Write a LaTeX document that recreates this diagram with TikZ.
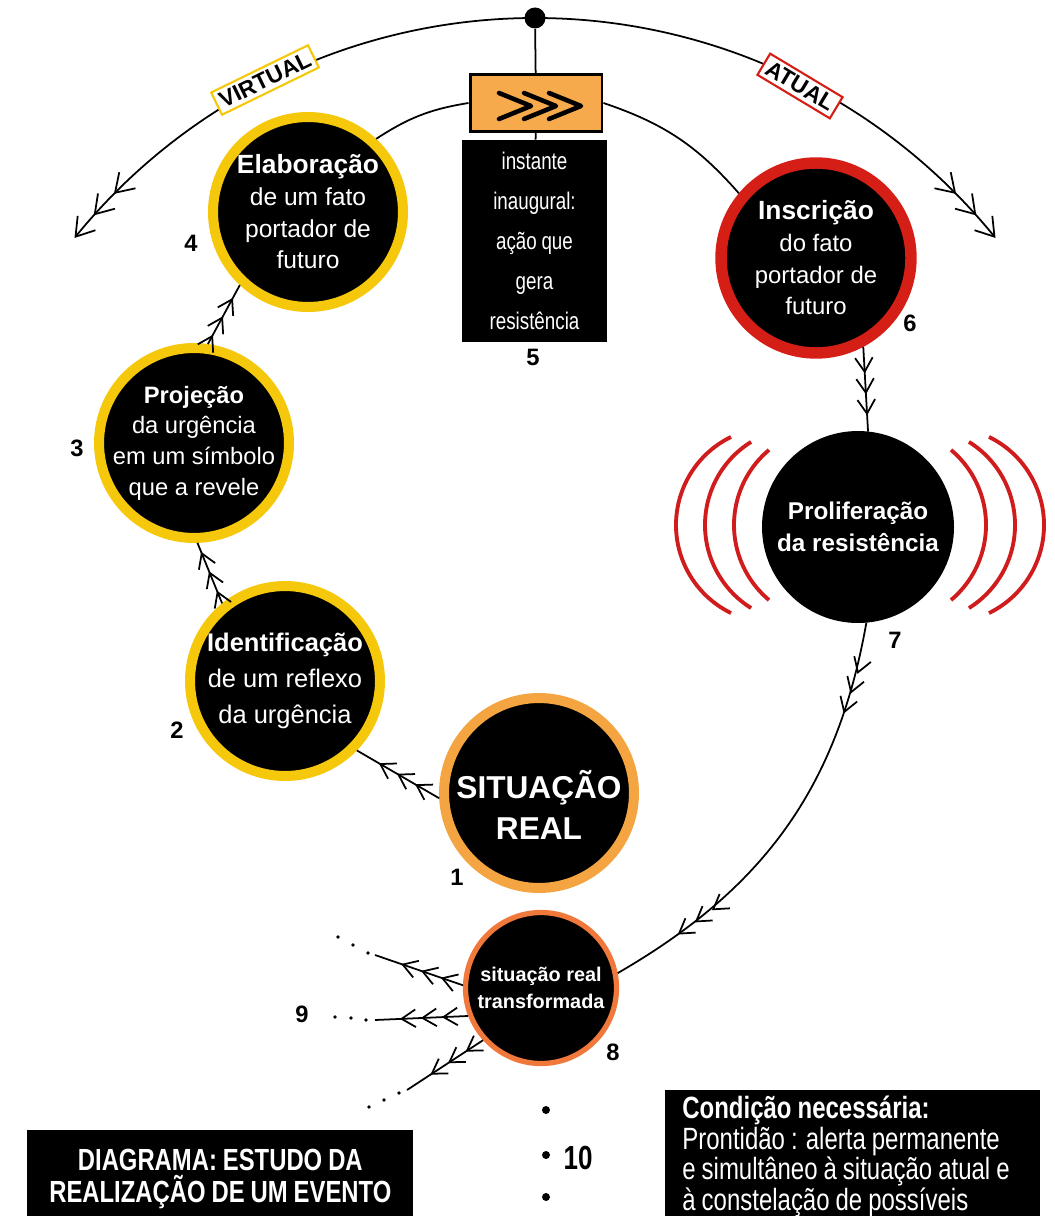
\documentclass[tikz,border=0pt]{standalone}
\usepackage{fontspec}
\setmainfont{Liberation Sans}
\newfontfamily\narrowfont[FakeStretch=0.78, WordSpace=0.9]{Liberation Sans}
\usetikzlibrary{arrows.meta, bending, decorations.markings}
\definecolor{ringyellow}{RGB}{245,200,12}
\definecolor{ringorange}{RGB}{244,165,66}
\definecolor{ringred}{RGB}{212,30,22}
\definecolor{ringcoral}{RGB}{240,120,58}
\definecolor{boxorange}{RGB}{247,170,76}
\definecolor{wavered}{RGB}{208,28,28}
\newcommand{\fsz}[2]{\fontsize{#1}{#2}\selectfont}

\begin{document}
\begin{tikzpicture}[x=0.02cm, y=0.02cm,
    barb/.tip={Straight Barb[length=8pt, width=10pt, sep=2.5pt]},
    bigbarb/.tip={Straight Barb[length=10pt, width=13pt, sep=5.5pt]},
    flow/.style={line width=1pt},
    heads/.style={postaction={decorate, decoration={markings,
        mark=at position #1 with {\arrow{barb[] barb[] barb[]}}}}},
    stage/.style={circle, fill=black, draw=#1, line width=5.7pt,
        minimum size=3.8cm, inner sep=0pt},
    words/.style={text=white, align=center, inner sep=0pt},
    num/.style={font=\bfseries\fsz{13.5}{14}, inner sep=0pt},
    tag/.style={draw=#1, fill=white, line width=1.2pt, inner sep=2.5pt,
        font=\bfseries\fsz{13}{13}},
    wave/.style={draw=wavered, line width=2.2pt}]

    \useasboundingbox (0,0) rectangle (1054,-1216);

    % Instante inaugural
    \node[circle, fill=black, minimum size=0.42cm, inner sep=0pt] (topdot) at (535,-18) {};
    \node[draw=black, fill=boxorange, line width=1.7pt, minimum width=2.64cm,
        minimum height=1.14cm] (gera) at (536,-103) {};
    \foreach \cx in {515,540,565}
        \draw[line width=2.6pt, line join=round, line cap=round] (\cx-16,-93) -- (\cx+16,-106) -- (\cx-16,-119);
    \node[fill=black, minimum width=2.9cm, minimum height=4.04cm, text=white, align=center,
        font=\narrowfont\fsz{13.7}{22.7}] (inst) at (534.5,-241)
        {instante\\inaugural:\\ação que\\gera\\resistência};

    % Stages of the event
    \node[stage=ringyellow] (elab) at (308,-212) {};
    \node[stage=ringyellow] (proj) at (194,-443) {};
    \node[stage=ringyellow] (ident) at (285,-681) {};
    \node[stage=ringorange] (sit) at (539,-793) {};
    \node[stage=ringred, line width=6.5pt] (insc) at (816,-258) {};
    \node[stage=black, minimum size=3.64cm] (prolif) at (858,-527) {};
    \node[stage=ringcoral, line width=3pt, minimum size=3.02cm] (trans) at (541,-988) {};

    \node[words, font=\fsz{14}{18}] (elabtxt) at (elab)
        {{\bfseries\fsz{15}{18}Elaboração}\\de um fato\\portador de\\futuro};
    \node[words, font=\fsz{13.5}{17.5}] (projtxt) at (proj)
        {\textbf{Projeção}\\da urgência\\em um símbolo\\que a revele};
    \node[words, font=\fsz{14.5}{20.4}] (identtxt) at (ident)
        {\textbf{Identificação}\\de um reflexo\\da urgência};
    \node[words, font=\bfseries\fsz{18}{23}] (sittxt) at (539,-805) {SITUAÇÃO\\REAL};
    \node[words, font=\fsz{13.6}{18}] (insctxt) at (insc)
        {{\bfseries\fsz{15}{18}Inscrição}\\do fato\\portador de\\futuro};
    \node[words, font=\bfseries\fsz{13.8}{18}] (proliftxt) at (prolif) {Proliferação\\da resistência};
    \node[words, font=\bfseries\fsz{11.3}{15}] (transtxt) at (trans) {situação real\\transformada};

    % Numbers
    \node[num] (n1) at (457,-877) {1};
    \node[num] (n2) at (177,-730) {2};
    \node[num] (n3) at (77,-448) {3};
    \node[num] (n4) at (191,-243) {4};
    \node[num] (n5) at (533,-357) {5};
    \node[num] (n6) at (910,-323) {6};
    \node[num] (n7) at (895,-640) {7};
    \node[num] (n8) at (613,-1052) {8};
    \node[num] (n9) at (302,-1014) {9};
    \node[num, font=\narrowfont\bfseries\fsz{19}{19}] (n10) at (578,-1158) {10};

    % Virtual / atual
    \draw[flow, -{bigbarb[] bigbarb[] bigbarb[]}] (topdot.center) arc[start angle=90, end angle=142, radius=592];
    \draw[flow, -{bigbarb[] bigbarb[] bigbarb[]}] (topdot.center) arc[start angle=90, end angle=38, radius=592];
    \node[tag=ringyellow, rotate=26] (virt) at (265,-80) {VIRTUAL};
    \node[tag=ringred, rotate=-31] (atual) at (800,-86) {ATUAL};

    % Connectors
    \draw[flow] (topdot) -- (gera);
    \draw[flow] (gera) -- (inst);
    \draw[flow, heads=0.78] (sit.183) -- (ident.-44);
    \draw[flow, heads=0.92] (ident.129) -- (proj.-88);
    \draw[flow, heads=0.85] (proj.82) -- (elab.227);
    \draw[flow] (gera.west) to[bend right=12] (elab.47);
    \draw[flow] (gera.east) to[bend left=15] (insc.140);
    \draw[flow, heads=0.86] (insc.-62) -- (prolif.84);
    \draw[flow, heads=0.22, heads=0.85] (prolif.-85) to[out=-100, in=30] (trans.11);

    % Resistance waves
    \foreach \d/\a in {28/50,57/58,86/64}{
        \draw[wave] ([shift={(180-\a:98)}]860-\d,-525) arc[start angle=180-\a, end angle=180+\a, radius=98];
        \draw[wave] ([shift={(\a:98)}]860+\d,-525) arc[start angle=\a, end angle=-\a, radius=98];
    }

    % Possible futures
    \coordinate (away1) at (375,-955);
    \coordinate (away2) at (375,-1020);
    \coordinate (away3) at (407,-1090);
    \draw[flow, heads=0.75] (trans.178) -- (away1);
    \draw[flow, heads=0.78] (trans.201) -- (away2);
    \draw[flow, heads=0.74] (trans.222) -- (away3);
    \foreach \p in {(368,-953),(353,-945),(338,-937),(366,-1020),(351,-1018),(335,-1017),
                    (399,-1093),(384,-1100),(369,-1107)}
        \fill \p circle (1.8);
    \foreach \y in {1110,1155,1197}
        \fill (546,-\y) circle (4);

    % Boxes at the bottom
    \node[fill=black, text=white, minimum width=7.72cm, minimum height=1.96cm, anchor=north west,
        align=center, font=\narrowfont\bfseries\fsz{17.4}{18.2}] (title) at (27,-1130)
        {DIAGRAMA: ESTUDO DA\\REALIZAÇÃO DE UM EVENTO};
    \node[fill=black, text=white, text width=6.82cm, inner xsep=0.34cm, minimum height=2.52cm,
        anchor=north west, align=flush left, font=\narrowfont\fsz{17.5}{15.9}] (cond) at (665,-1090)
        {\textbf{Condição necessária:}\\Prontidão : alerta permanente\\e simultâneo à situação atual e\\à constelação de possíveis};
\end{tikzpicture}
\end{document}
